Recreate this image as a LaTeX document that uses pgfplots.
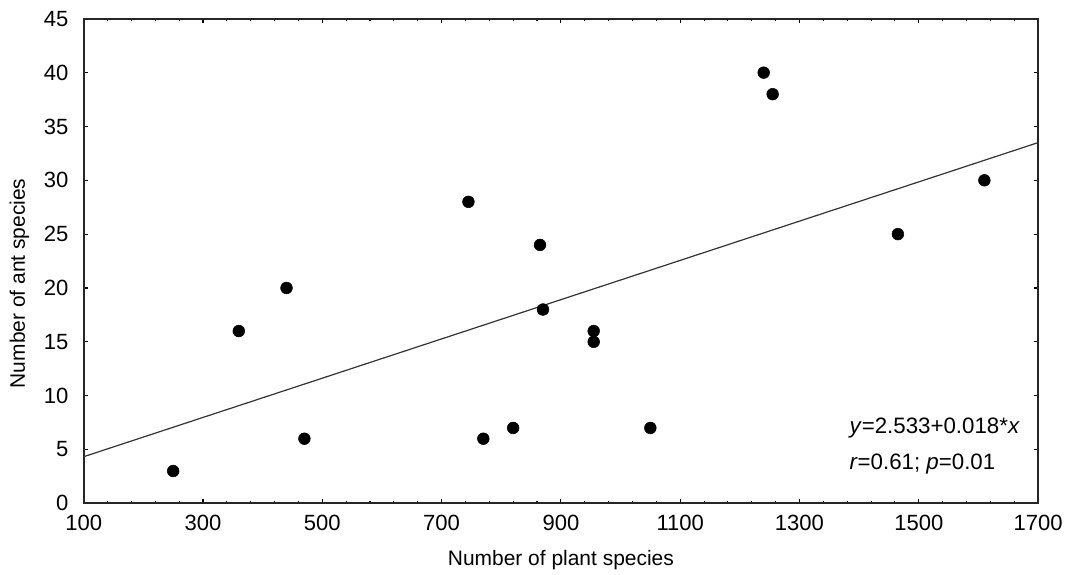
\documentclass[border=0pt]{standalone}
\usepackage{fontspec}
\setmainfont{Liberation Sans}
\usepackage{pgfplots}
\pgfplotsset{compat=1.18}

\pgfplotstableread{
x y
250 3
360 16
440 20
470 6
745 28
770 6
820 7
865 24
870 18
955 16
955 15
1050 7
1240 40
1255 38
1465 25
1610 30
}\antdata

\begin{document}
\begin{tikzpicture}[x=0.75pt,y=0.75pt]
\begin{axis}[
  scale only axis,
  width=715pt, height=363pt,
  xmin=100, xmax=1700, ymin=0, ymax=45,
  xtick={100,300,...,1700},
  ytick={0,5,...,45},
  minor x tick num=4,
  tick align=inside,
  major tick length=3pt,
  minor tick length=2pt,
  axis line style={line width=1.3pt, black!85},
  tick style={black, line width=0.8pt},
  tick label style={font=\fontsize{16.5}{19}\selectfont},
  /pgf/number format/assume math mode=true,
  /pgf/number format/1000 sep={},
  xticklabel style={yshift=-5pt},
  yticklabel style={xshift=-8pt},
  label style={font=\fontsize{15.7}{18}\selectfont},
  xlabel={Number of plant species},
  ylabel={Number of ant species},
  xlabel style={yshift=-8pt},
  ylabel style={at={(ticklabel cs:0.454)}, yshift=4pt},
  clip=false,
]
\addplot[black!80, line width=0.9pt] coordinates {(100,4.33) (1700,33.5)};
\addplot[only marks, mark=*, mark size=4.4pt, black] table[x=x,y=y] {\antdata};
\node[anchor=west, font=\fontsize{16.7}{19}\selectfont] at (axis cs:1376,6.97) {\textit{y}=2.533+0.018*\textit{x}};
\node[anchor=west, font=\fontsize{16.7}{19}\selectfont] at (axis cs:1376,3.63) {\textit{r}=0.61; \textit{p}=0.01};
\end{axis}
\path ([shift={(-4pt,5pt)}]current bounding box.north west);
\end{tikzpicture}
\end{document}
